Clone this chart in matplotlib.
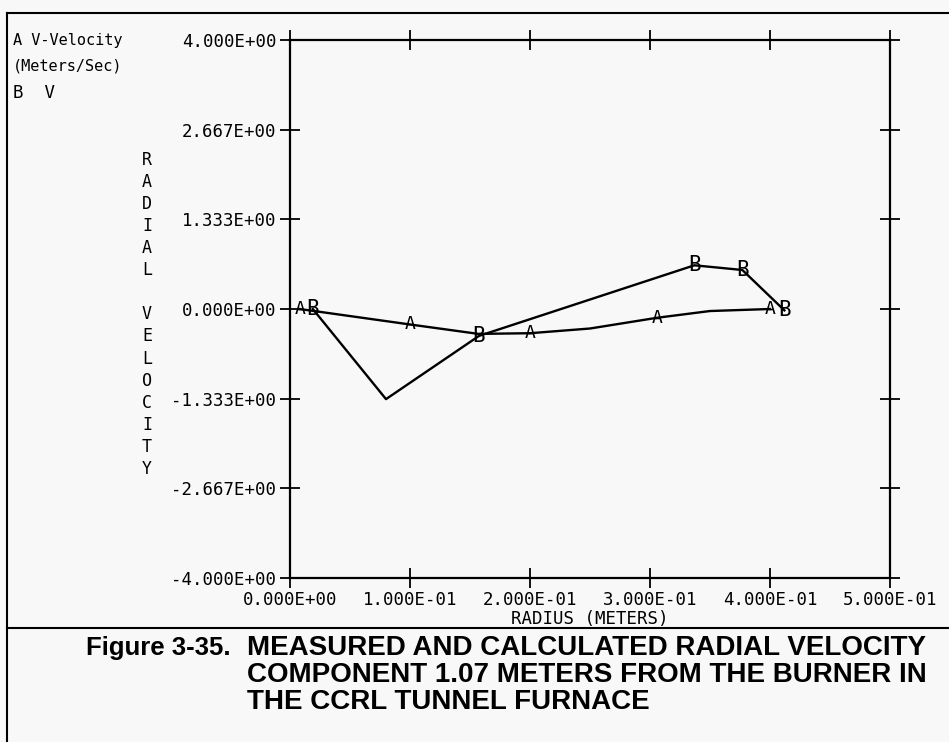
import matplotlib.pyplot as plt
from matplotlib.lines import Line2D

# Datos
# Curva A: velocidad calculada
radio_a = [0.008, 0.100, 0.157, 0.200, 0.250, 0.306, 0.350, 0.400]
vel_a = [0.00, -0.23, -0.37, -0.36, -0.29, -0.13, -0.03, 0.00]
marca_a = [0.008, 0.100, 0.200, 0.306, 0.400]
marca_a_v = [0.00, -0.23, -0.36, -0.13, 0.00]

# Curva B: velocidad medida
radio_b = [0.019, 0.080, 0.1575, 0.337, 0.377, 0.412]
vel_b = [0.00, -1.34, -0.40, 0.65, 0.58, -0.02]
marca_b = [0.019, 0.1575, 0.337, 0.377, 0.412]
marca_b_v = [0.00, -0.40, 0.65, 0.58, -0.02]

xticks = [0.0, 0.1, 0.2, 0.3, 0.4, 0.5]
xlabels = ['0.000E+00', '1.000E-01', '2.000E-01', '3.000E-01', '4.000E-01', '5.000E-01']
yticks = [-4.0, -2.667, -1.333, 0.0, 1.333, 2.667, 4.0]
ylabels = ['-4.000E+00', '-2.667E+00', '-1.333E+00', '0.000E+00',
           '1.333E+00', '2.667E+00', '4.000E+00']

mono = 'DejaVu Sans Mono'

fig = plt.figure(figsize=(9.49, 7.42), dpi=100)
fig.patch.set_facecolor('#f8f8f8')
ax = fig.add_axes([0.3056, 0.2210, 0.6322, 0.7251])
ax.set_facecolor('#f8f8f8')

ax.plot(radio_a, vel_a, 'k-', lw=1.7)
ax.plot(radio_b, vel_b, 'k-', lw=1.7)
for x, y in zip(marca_a, marca_a_v):
    ax.text(x, y, 'A', ha='center', va='center', fontsize=13, family=mono)
for x, y in zip(marca_b, marca_b_v):
    ax.text(x, y, 'B', ha='center', va='center', fontsize=15, family=mono)

ax.set_xlim(0, 0.5)
ax.set_ylim(-4, 4)
ax.set_xticks(xticks)
ax.set_xticklabels(xlabels, family=mono, fontsize=12.5)
ax.set_yticks(yticks)
ax.set_yticklabels(ylabels, family=mono, fontsize=12.5)
ax.tick_params(direction='inout', length=14, width=1.3, pad=3,
               top=True, right=True)
ax.tick_params(axis='x', pad=2)
for s in ax.spines.values():
    s.set_linewidth(1.6)

ax.set_xlabel('RADIUS (METERS)', family=mono, fontsize=12.5, labelpad=1)

# Etiqueta vertical letra por letra
fig.text(147 / 949, 1 - 151 / 742, '\n'.join('RADIAL VELOCITY'),
         ha='center', va='top', family=mono, fontsize=12, linespacing=1.29)

# Leyenda arriba a la izquierda
fig.text(13 / 949, 1 - 40 / 742, 'A V-Velocity', ha='left', va='center',
         family=mono, fontsize=11)
fig.text(13 / 949, 1 - 66 / 742, '(Meters/Sec)', ha='left', va='center',
         family=mono, fontsize=11)
fig.text(13 / 949, 1 - 93 / 742, 'B  V', ha='left', va='center',
         family=mono, fontsize=12.5)

# Marco exterior y separador
fig.add_artist(Line2D([7 / 949, 7 / 949], [0, 1 - 13 / 742], color='k', lw=1.5))
fig.add_artist(Line2D([7 / 949, 1], [1 - 13 / 742, 1 - 13 / 742], color='k', lw=1.5))
fig.add_artist(Line2D([7 / 949, 1], [1 - 628 / 742, 1 - 628 / 742], color='k', lw=1.5))

# Pie de figura
cap = 'Liberation Sans'
fig.text(86 / 949, 1 - 648 / 742, 'Figure 3-35.', ha='left', va='center',
         family=cap, weight='bold', fontsize=18.5)
lineas = ['MEASURED AND CALCULATED RADIAL VELOCITY',
          'COMPONENT 1.07 METERS FROM THE BURNER IN',
          'THE CCRL TUNNEL FURNACE']
for i, t in enumerate(lineas):
    fig.text(247 / 949, 1 - (648 + 27 * i) / 742, t, ha='left', va='center',
             family=cap, weight='bold', fontsize=20)

plt.savefig('out.png', dpi=100, facecolor=fig.get_facecolor())
